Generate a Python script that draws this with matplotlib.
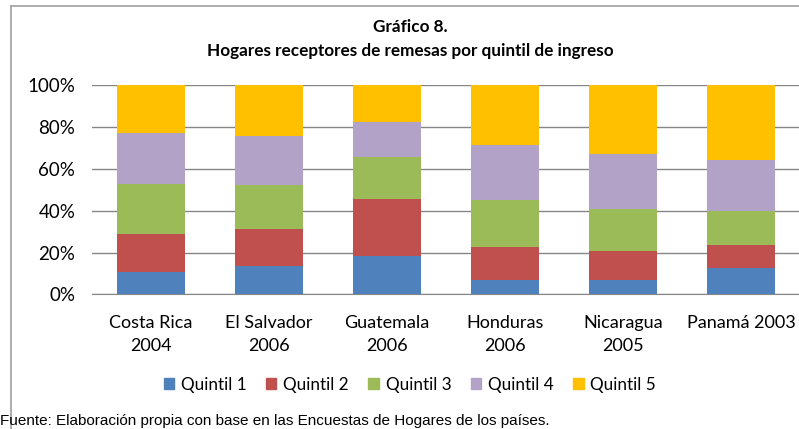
import matplotlib.pyplot as plt
from matplotlib.lines import Line2D
from matplotlib.patches import Patch

plt.rcParams['font.family'] = ['Lato', 'DejaVu Sans']

paises = ['Costa Rica\n2004', 'El Salvador\n2006', 'Guatemala\n2006',
          'Honduras\n2006', 'Nicaragua\n2005', 'Panamá 2003']
series = ['Quintil 1', 'Quintil 2', 'Quintil 3', 'Quintil 4', 'Quintil 5']

quintil1 = [10.8, 13.7, 18.5, 7.0, 7.0, 12.7]
quintil2 = [18.2, 17.5, 27.1, 15.6, 13.7, 10.9]
quintil3 = [23.9, 21.1, 20.1, 22.7, 20.1, 16.3]
quintil4 = [24.3, 23.6, 16.9, 26.1, 26.5, 24.5]
quintil5 = [22.8, 24.1, 17.4, 28.6, 32.7, 35.6]

colores = ['#4F81BD', '#C0504D', '#9BBB59', '#B2A2C7', '#FFC000']

fig = plt.figure(figsize=(7.99, 4.29), dpi=100)
ax = fig.add_axes([0.1151, 0.314, 0.886, 0.487])

x = range(len(paises))
base = [0] * len(paises)
for nombre, vals, c in zip(series, [quintil1, quintil2, quintil3, quintil4, quintil5], colores):
    ax.bar(x, vals, bottom=base, width=0.576, color=c, zorder=3)
    base = [b + v for b, v in zip(base, vals)]

ax.set_xlim(-0.5, 5.5)
ax.set_ylim(0, 100)
ax.set_yticks([0, 20, 40, 60, 80, 100])
ax.set_yticklabels(['0%', '20%', '40%', '60%', '80%', '100%'], fontsize=13.5)
ax.set_xticks(list(x))
ax.set_xticklabels(paises, fontsize=13, linespacing=1.55)
ax.tick_params(length=0)
ax.tick_params(axis='y', pad=12)
ax.tick_params(axis='x', pad=15)
ax.grid(axis='y', color='#868686', linewidth=1, zorder=0)
for s in ['top', 'right', 'left']:
    ax.spines[s].set_visible(False)
ax.spines['bottom'].set_color('#868686')

fig.text(0.513, 0.937, 'Gráfico 8.', ha='center', va='center', fontsize=12.3, fontweight='bold')
fig.text(0.513, 0.881, 'Hogares receptores de remesas por quintil de ingreso',
         ha='center', va='center', fontsize=12.3, fontweight='bold')

handles = [Patch(color=c) for c in colores]
fig.legend(handles, series, loc='center', bbox_to_anchor=(0.513, 0.103), ncol=5,
           frameon=False, fontsize=12.3, handlelength=0.6, handleheight=0.6,
           handletextpad=0.4, columnspacing=1.15)

fig.text(0.0, 0.002, 'Fuente: Elaboración propia con base en las Encuestas de Hogares de los países.',
         fontsize=11, family=['Liberation Sans', 'DejaVu Sans'], va='bottom')

fig.add_artist(Line2D([0.0138, 0.0138], [0.986, 0.0], color='#A0A0A0', linewidth=1.2))
fig.add_artist(Line2D([0.0138, 1.0], [0.986, 0.986], color='#A0A0A0', linewidth=1.2))

fig.savefig('out.png', dpi=100)
